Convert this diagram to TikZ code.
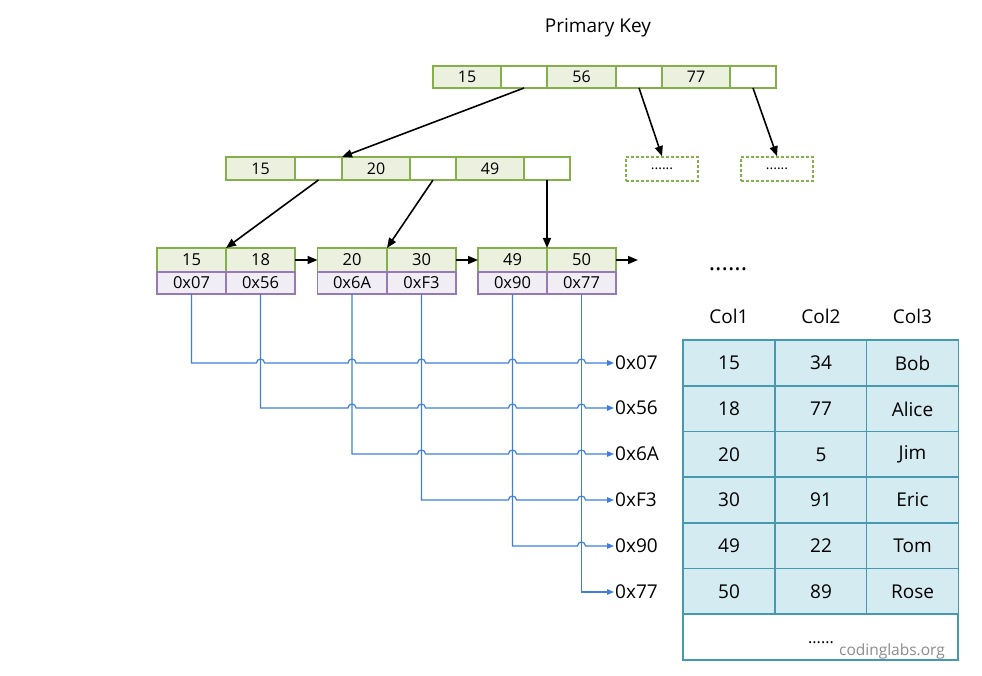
\documentclass[tikz,border=0pt]{standalone}
\usepackage{fontspec}
\setmainfont{Open Sans}
\usetikzlibrary{arrows.meta,calc}
\definecolor{gborder}{HTML}{84B04A}
\definecolor{gfill}{HTML}{EBF1DE}
\definecolor{pborder}{HTML}{9679B8}
\definecolor{pfill}{HTML}{F1EDF5}
\definecolor{tborder}{HTML}{4599B0}
\definecolor{tfill}{HTML}{D4EBF1}
\definecolor{bline}{HTML}{3F7FDB}
\begin{document}
\begin{tikzpicture}[x=1pt,y=-1pt,
  cell/.style={draw, line width=1.8pt, inner sep=0pt, outer sep=0pt},
  tkey/.style={cell, draw=gborder, fill=gfill, minimum height=22pt, font=\fontsize{16}{16}\selectfont},
  tptr/.style={cell, draw=gborder, fill=white, minimum height=22pt},
  lkey/.style={cell, draw=gborder, fill=gfill, minimum width=69pt, minimum height=24pt, font=\fontsize{16.5}{16.5}\selectfont},
  lptr/.style={cell, draw=pborder, fill=pfill, minimum width=69pt, minimum height=22pt, font=\fontsize{16.5}{16.5}\selectfont},
  dbox/.style={draw=gborder, line width=1.6pt, dashed, dash pattern=on 3pt off 2pt, minimum width=72pt, minimum height=24pt, inner sep=0pt, font=\fontsize{14}{14}\selectfont},
  tc/.style={draw=tborder, line width=1.8pt, fill=tfill, minimum width=92pt, minimum height=46pt, inner sep=0pt, outer sep=0pt, font=\fontsize{19}{19}\selectfont},
  txt/.style={inner sep=1pt, font=\fontsize{19}{19}\selectfont},
  arr/.style={line width=1.6pt, -{Triangle[length=10pt,width=8pt]}},
  bl/.style={draw=bline, line width=1.2pt, -{Triangle[length=7pt,width=5.5pt]}}
]
\useasboundingbox (0,0) rectangle (982,676);

% title
\node[txt] (title) at (598,28) {Primary Key};

% root row
\node[tkey, minimum width=68pt] (t1) at (467,77) {15};
\node[tptr, minimum width=46pt] (t2) at (524,77) {};
\node[tkey, minimum width=69pt] (t3) at (581.5,77) {56};
\node[tptr, minimum width=46pt] (t4) at (639,77) {};
\node[tkey, minimum width=68pt] (t5) at (696,77) {77};
\node[tptr, minimum width=46pt] (t6) at (753,77) {};

% dashed children
\node[dbox] (d1) at (662,169) {......};
\node[dbox] (d2) at (777,169) {......};

% middle row
\node[tkey, minimum width=69pt, minimum height=23pt] (m1) at (260.5,168.5) {15};
\node[tptr, minimum width=47pt, minimum height=23pt] (m2) at (318.5,168.5) {};
\node[tkey, minimum width=68pt, minimum height=23pt] (m3) at (376,168.5) {20};
\node[tptr, minimum width=46pt, minimum height=23pt] (m4) at (433,168.5) {};
\node[tkey, minimum width=68pt, minimum height=23pt] (m5) at (490,168.5) {49};
\node[tptr, minimum width=46pt, minimum height=23pt] (m6) at (547,168.5) {};

% leaves
\node[lkey] (k1) at (191.5,260) {15};
\node[lkey] (k2) at (260.5,260) {18};
\node[lptr] (p1) at (191.5,283) {0x07};
\node[lptr] (p2) at (260.5,283) {0x56};
\node[lkey] (k3) at (352,260) {20};
\node[lkey] (k4) at (421.5,260) {30};
\node[lptr] (p3) at (352,283) {0x6A};
\node[lptr] (p4) at (421.5,283) {0xF3};
\node[lkey] (k5) at (512.5,260) {49};
\node[lkey] (k6) at (581.5,260) {50};
\node[lptr] (p5) at (512.5,283) {0x90};
\node[lptr] (p6) at (581.5,283) {0x77};
\coordinate (lend) at (638,260);
\node[txt, anchor=base, font=\fontsize{24}{24}\selectfont] (more) at (728,271) {......};

% tree arrows
\draw[arr] (t2.south) -- (m3.north west);
\draw[arr] (t4.south) -- (d1.north);
\draw[arr] (t6.south) -- (d2.north);
\draw[arr] (m2.south) -- (k2.north west);
\draw[arr] (m4.south) -- (k4.north west);
\draw[arr] (m6.south) -- (k6.north west);
\draw[arr] (k2.east) -- (k3.west);
\draw[arr] (k4.east) -- (k5.west);
\draw[arr] (k6.east) -- (lend);

% address labels
\node[txt, anchor=west] (a1) at (614,363) {0x07};
\node[txt, anchor=west] (a2) at (614,408) {0x56};
\node[txt, anchor=west] (a3) at (614,454) {0x6A};
\node[txt, anchor=west] (a4) at (614,500) {0xF3};
\node[txt, anchor=west] (a5) at (614,546) {0x90};
\node[txt, anchor=west] (a6) at (614,592) {0x77};

% blue pointer lines with hops
\draw[bl] (p1.south) -- (p1.south |- a1.west)
  -- ($(p2.south |- a1.west)+(-4,0)$) arc[start angle=180,end angle=0,radius=4pt]
  -- ($(p3.south |- a1.west)+(-4,0)$) arc[start angle=180,end angle=0,radius=4pt]
  -- ($(p4.south |- a1.west)+(-4,0)$) arc[start angle=180,end angle=0,radius=4pt]
  -- ($(p5.south |- a1.west)+(-4,0)$) arc[start angle=180,end angle=0,radius=4pt]
  -- ($(p6.south |- a1.west)+(-4,0)$) arc[start angle=180,end angle=0,radius=4pt]
  -- (a1.west);
\draw[bl] (p2.south) -- (p2.south |- a2.west)
  -- ($(p3.south |- a2.west)+(-4,0)$) arc[start angle=180,end angle=0,radius=4pt]
  -- ($(p4.south |- a2.west)+(-4,0)$) arc[start angle=180,end angle=0,radius=4pt]
  -- ($(p5.south |- a2.west)+(-4,0)$) arc[start angle=180,end angle=0,radius=4pt]
  -- ($(p6.south |- a2.west)+(-4,0)$) arc[start angle=180,end angle=0,radius=4pt]
  -- (a2.west);
\draw[bl] (p3.south) -- (p3.south |- a3.west)
  -- ($(p4.south |- a3.west)+(-4,0)$) arc[start angle=180,end angle=0,radius=4pt]
  -- ($(p5.south |- a3.west)+(-4,0)$) arc[start angle=180,end angle=0,radius=4pt]
  -- ($(p6.south |- a3.west)+(-4,0)$) arc[start angle=180,end angle=0,radius=4pt]
  -- (a3.west);
\draw[bl] (p4.south) -- (p4.south |- a4.west)
  -- ($(p5.south |- a4.west)+(-4,0)$) arc[start angle=180,end angle=0,radius=4pt]
  -- ($(p6.south |- a4.west)+(-4,0)$) arc[start angle=180,end angle=0,radius=4pt]
  -- (a4.west);
\draw[bl] (p5.south) -- (p5.south |- a5.west)
  -- ($(p6.south |- a5.west)+(-4,0)$) arc[start angle=180,end angle=0,radius=4pt]
  -- (a5.west);
\draw[bl] (p6.south) -- (p6.south |- a6.west) -- (a6.west);

% table headers
\node[txt] (h1) at (729,316) {Col1};
\node[txt] (h2) at (821,316) {Col2};
\node[txt] (h3) at (912.5,316) {Col3};

% table
\foreach \r/\y/\a/\b/\c in {1/363/15/34/Bob,2/409/18/77/Alice,3/454.5/20/5/Jim,4/500/30/91/Eric,5/546/49/22/Tom,6/591.5/50/89/Rose}{
  \node[tc] (r\r c1) at (729,\y) {\a};
  \node[tc] (r\r c2) at (821,\y) {\b};
  \node[tc] (r\r c3) at (912.5,\y) {\c};
}
\node[tc, fill=white, minimum width=275pt] (rb) at (820.5,637) {};
\node[txt, anchor=base, font=\fontsize{16}{16}\selectfont] (rbdots) at (821,643) {......};
\node[anchor=center, inner sep=0pt, text=black!45, font=\fontsize{15.5}{15.5}\selectfont] (wm) at (892,651) {codinglabs.org};
\end{tikzpicture}
\end{document}
